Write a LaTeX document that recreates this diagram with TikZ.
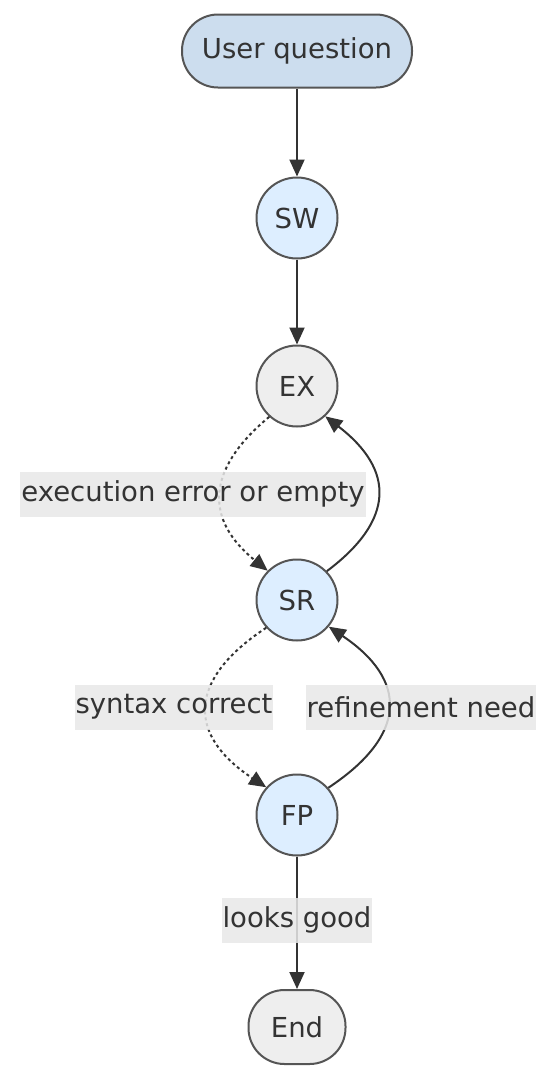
\documentclass[tikz,border=0pt]{standalone}
\usepackage{fontspec}
\setmainfont{DejaVu Sans}
\usetikzlibrary{arrows.meta}
\definecolor{edgec}{HTML}{333333}
\definecolor{strokec}{HTML}{555555}
\definecolor{bluefill}{HTML}{DDEEFF}
\definecolor{startfill}{HTML}{CCDDEE}
\definecolor{grayfill}{HTML}{EEEEEE}
\definecolor{lblbg}{HTML}{E8E8E8}
\definecolor{txtc}{HTML}{333333}
\tikzset{
  x=1pt, y=-1pt,
  every node/.style={font=\fontsize{27.5}{32}\selectfont, text=txtc},
  circ/.style={circle, draw=strokec, line width=2pt, minimum size=81pt, inner sep=0pt},
  bluenode/.style={circ, fill=bluefill},
  graynode/.style={circ, fill=grayfill},
  startnode/.style={rectangle, rounded corners=36pt, draw=strokec, line width=2pt, fill=startfill, minimum width=230pt, minimum height=73pt, inner sep=0pt},
  endnode/.style={rectangle, rounded corners=36pt, draw=strokec, line width=2pt, fill=grayfill, minimum width=97pt, minimum height=74pt, inner sep=0pt},
  edge/.style={draw=edgec, line width=2pt, -{Triangle[length=17pt,width=15pt]}},
  dotedge/.style={edge, dash pattern=on 3pt off 3pt},
  lbl/.style={fill=lblbg, fill opacity=0.85, text opacity=1, inner xsep=1pt, inner ysep=0pt, minimum height=45pt}
}
\begin{document}
\begin{tikzpicture}
\useasboundingbox (0,0) rectangle (559,1080);
\node[startnode] (uq) at (297,51) {User question};
\node[bluenode] (sw) at (297,218) {SW};
\node[graynode] (ex) at (297,386) {EX};
\node[bluenode] (sr) at (297,600) {SR};
\node[bluenode] (fp) at (297,815) {FP};
\node[endnode] (end) at (297,1027) {End};

\draw[edge] (uq) -- (sw);
\draw[edge] (sw) -- (ex);
\draw[dotedge] (ex.228) .. controls (205,470) and (205,520) .. (sr.135);
\draw[edge] (sr.44) .. controls (395,520) and (395,470) .. (ex.313);
\draw[dotedge] (sr.222) .. controls (187,680) and (187,735) .. (fp.138);
\draw[edge] (fp.41) .. controls (408,735) and (408,680) .. (sr.320);
\draw[edge] (fp) -- (end);

\node[lbl] (l1) at (193,494) {execution error or empty};
\node[lbl] (l2) at (174,707) {syntax correct};
\node[lbl] (l3) at (421,707) {refinement need};
\node[lbl] (l4) at (297,920) {looks good};
\end{tikzpicture}
\end{document}
